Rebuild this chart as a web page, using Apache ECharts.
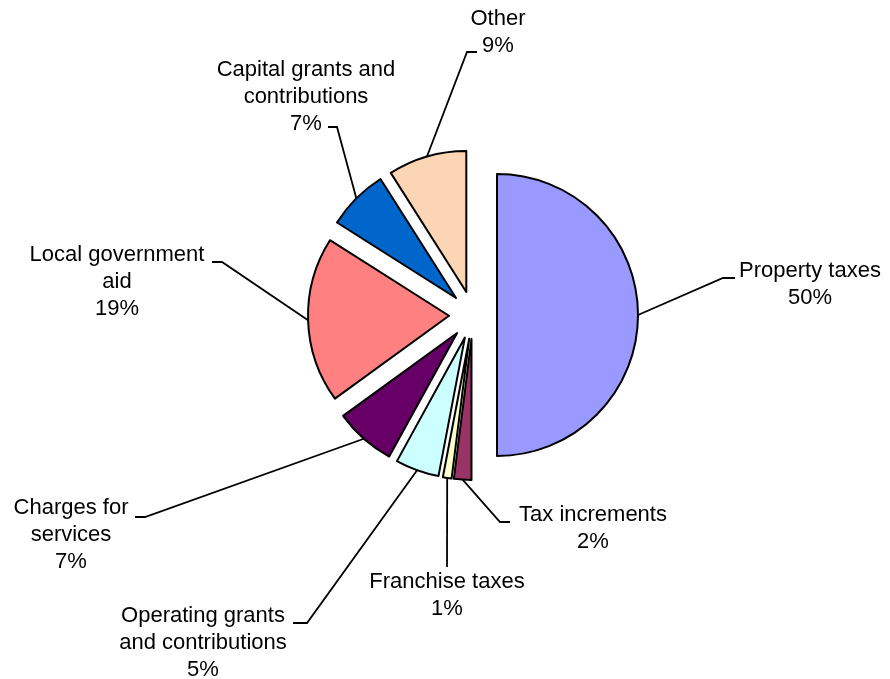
<!DOCTYPE html>
<html>
<head>
<meta charset="utf-8">
<script src="https://cdn.jsdelivr.net/npm/echarts@6/dist/echarts.min.js"></script>
<style>
  html, body { margin: 0; padding: 0; background: #ffffff; }
  #chart { width: 890px; height: 679px; }
</style>
</head>
<body>
<div id="chart"></div>
<script>
// Revenue sources, clockwise from 12 o'clock
const categories = [
  'Property taxes',
  'Tax increments',
  'Franchise taxes',
  'Operating grants\nand contributions',
  'Charges for\nservices',
  'Local government\naid',
  'Capital grants and\ncontributions',
  'Other'
];
const shares = [50, 2, 1, 5, 7, 19, 7, 9];
const sliceColors = ['#9999FF', '#993366', '#FFFFCC', '#CCFFFF', '#660066', '#FF8080', '#0066CC', '#FCD5B5'];

// Pie geometry
const CX = 473, CY = 315, R = 141, OFFSET = 24;

// Label block centres and leader-line bend / end points
const labelSpots = [
  { x: 810, y: 284, bend: [723, 278], end: [735, 278] },
  { x: 593, y: 528, bend: [500, 522], end: [510, 522] },
  { x: 447, y: 595, bend: [447, 567], end: [447, 567] },
  { x: 203, y: 643, bend: [307, 623], end: [293, 623] },
  { x: 71,  y: 535, bend: [145, 517], end: [135, 517] },
  { x: 117, y: 282, bend: [222, 262], end: [212, 262] },
  { x: 306, y: 97,  bend: [337, 127], end: [328, 127] },
  { x: 498, y: 32,  bend: [467, 52],  end: [477, 52] }
];

const total = shares.reduce((a, b) => a + b, 0);

// mid-angle of a slice, radians clockwise from 12 o'clock
function sliceMid(i) {
  let before = 0;
  for (let k = 0; k < i; k++) before += shares[k];
  return (before + shares[i] / 2) / total * Math.PI * 2;
}
// point in the middle of a pulled-out slice's outer arc
function arcPoint(i) {
  const a = sliceMid(i);
  const ox = CX + OFFSET * Math.sin(a);
  const oy = CY - OFFSET * Math.cos(a);
  return [ox + R * Math.sin(a), oy - R * Math.cos(a)];
}

const chart = echarts.init(document.getElementById('chart'), null, { renderer: 'canvas' });

const pieData = categories.map((name, i) => ({ name: name, value: shares[i] }));

chart.setOption({
  backgroundColor: '#ffffff',
  animation: false,
  series: [
    {
      // exploded slices
      type: 'pie',
      z: 2,
      center: [CX, CY],
      radius: R,
      startAngle: 90,
      clockwise: true,
      selectedMode: 'multiple',
      selectedOffset: OFFSET,
      data: pieData.map((d, i) => ({
        name: d.name,
        value: d.value,
        selected: true,
        itemStyle: { color: sliceColors[i] },
        select: { itemStyle: { color: sliceColors[i] } }
      })),
      itemStyle: { borderColor: '#000000', borderWidth: 2 },
      select: { itemStyle: { borderColor: '#000000', borderWidth: 2 } },
      emphasis: { disabled: true },
      label: { show: false },
      labelLine: { show: false }
    },
    {
      // category labels with leader lines
      type: 'pie',
      z: 3,
      silent: true,
      center: [CX, CY],
      radius: R,
      startAngle: 90,
      clockwise: true,
      selectedMode: false,
      avoidLabelOverlap: false,
      data: pieData,
      itemStyle: { color: 'rgba(0,0,0,0)', borderWidth: 0 },
      emphasis: { disabled: true },
      label: {
        show: true,
        position: 'outside',
        formatter: p => p.name + '\n' + Math.round(p.percent) + '%',
        color: '#000000',
        fontSize: 22,
        lineHeight: 27,
        fontFamily: '"Liberation Sans", Arial, sans-serif',
        align: 'center'
      },
      labelLine: {
        show: true,
        lineStyle: { color: '#000000', width: 1.8 }
      },
      labelLayout: function (params) {
        const i = params.dataIndex;
        const s = labelSpots[i];
        return {
          x: s.x,
          y: s.y,
          align: 'center',
          verticalAlign: 'middle',
          labelLinePoints: [arcPoint(i), s.bend, s.end]
        };
      }
    }
  ]
});
</script>
</body>
</html>
